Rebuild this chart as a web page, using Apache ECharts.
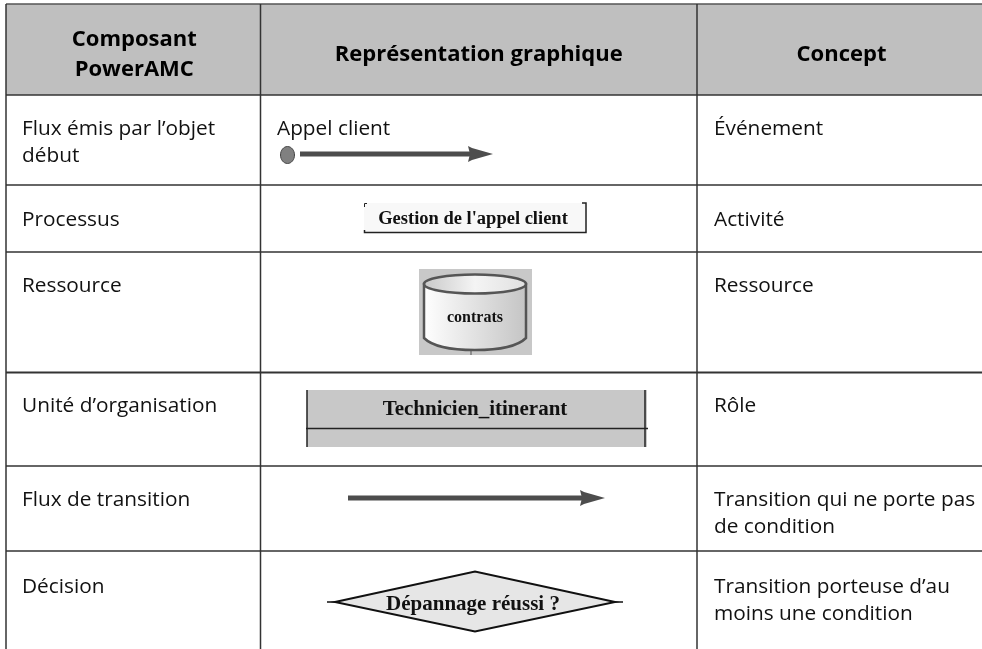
<!DOCTYPE html>
<html lang="fr">
<head>
  <meta charset="UTF-8" />
  <title>Composants PowerAMC</title>
  <script src="https://cdn.jsdelivr.net/npm/echarts@6/dist/echarts.min.js"></script>
  <style>
    body { margin: 0; background: #fff; overflow: hidden; }
    #main { width: 982px; height: 649px; }
  </style>
</head>
<body>
  <div id="main"></div>
  <script>
    const columnHeaders = ['Composant\nPowerAMC', 'Représentation graphique', 'Concept'];
    const components = [
      'Flux émis par l’objet\ndébut',
      'Processus',
      'Ressource',
      'Unité d’organisation',
      'Flux de transition',
      'Décision'
    ];
    const concepts = [
      'Événement',
      'Activité',
      'Ressource',
      'Rôle',
      'Transition qui ne porte pas\nde condition',
      'Transition porteuse d’au\nmoins une condition'
    ];
    const eventLabel = 'Appel client';
    const processLabel = 'Gestion de l\'appel client';
    const resourceLabel = 'contrats';
    const roleLabel = 'Technicien_itinerant';
    const decisionLabel = 'Dépannage réussi ?';

    // grille du tableau
    const colX = [6, 260.5, 697, 982];
    const rowY = [4, 95, 185, 252, 372.5, 466, 551, 649];
    const bodyFont = '"Open Sans", sans-serif';
    const serif = '"Liberation Serif", serif';
    const lineColor = '#333';
    const arrowColor = '#4d4d4d';

    // la cuve de la ressource : graphic n'a pas de type path
    echarts.graphic.registerShape('drum', echarts.graphic.extendShape({
      shape: { x1: 0, x2: 0, top: 0, side: 0, bottom: 0 },
      buildPath(ctx, s) {
        const mid = (s.x1 + s.x2) / 2;
        ctx.moveTo(s.x1, s.top);
        ctx.lineTo(s.x1, s.side);
        ctx.bezierCurveTo(s.x1 + 8, s.bottom - 4, mid - 25, s.bottom, mid, s.bottom);
        ctx.bezierCurveTo(mid + 25, s.bottom, s.x2 - 8, s.bottom - 4, s.x2, s.side);
        ctx.lineTo(s.x2, s.top);
        ctx.closePath();
      }
    }));

    const chart = echarts.init(document.getElementById('main'));
    const g = [];

    function line(x1, y1, x2, y2, color, width) {
      g.push({ type: 'line', shape: { x1, y1, x2, y2 }, style: { stroke: color, lineWidth: width } });
    }
    function rect(x, y, width, height, fill) {
      g.push({ type: 'rect', shape: { x, y, width, height }, style: { fill } });
    }
    function text(x, y, str, font, size, weight, align, lineHeight, color) {
      g.push({
        type: 'text', x, y,
        style: {
          text: str, fill: color || '#111', align, verticalAlign: 'middle',
          font: weight + ' ' + size + 'px ' + font, lineHeight
        }
      });
    }
    function arrow(x1, x2, y) {
      line(x1, y, x2 - 18, y, arrowColor, 5);
      g.push({
        type: 'polygon',
        shape: { points: [[x2 - 25, y - 8], [x2 - 21, y - 6], [x2, y], [x2 - 21, y + 6], [x2 - 25, y + 8], [x2 - 23, y]] },
        style: { fill: arrowColor }
      });
    }

    // en-tête
    rect(colX[0], rowY[0], colX[3] - colX[0], rowY[1] - rowY[0], '#bfbfbf');
    text((colX[0] + colX[1]) / 2 + 1, 55, columnHeaders[0], bodyFont, 22, 'bold', 'center', 30, '#000');
    text((colX[1] + colX[2]) / 2, 55, columnHeaders[1], bodyFont, 22, 'bold', 'center', 30, '#000');
    text((colX[2] + colX[3]) / 2 + 2, 55, columnHeaders[2], bodyFont, 22, 'bold', 'center', 30, '#000');

    // lignes
    rowY.slice(0, -1).forEach((y, i) => line(colX[0], y, colX[3], y, i === 0 ? '#555' : lineColor, i === 4 ? 2 : 1.5));
    colX.slice(0, -1).forEach(x => line(x, rowY[0], x, rowY[7], lineColor, 1.5));

    // colonnes de texte
    const textY = [129, 220, 286, 406, 500, 587];
    components.forEach((c, i) => {
      const y = c.indexOf('\n') >= 0 ? textY[i] + 13.5 : textY[i];
      text(colX[0] + 16, y, c, bodyFont, 20.8, 'normal', 'left', 27);
    });
    concepts.forEach((c, i) => {
      const y = c.indexOf('\n') >= 0 ? textY[i] + 13.5 : textY[i];
      text(colX[2] + 17, y, c, bodyFont, 20.8, 'normal', 'left', 27);
    });

    // flux émis par l'objet début
    text(277, 129, eventLabel, bodyFont, 20.8, 'normal', 'left', 27);
    g.push({ type: 'ellipse', shape: { cx: 287.5, cy: 155, rx: 7, ry: 8.5 }, style: { fill: '#808080', stroke: '#444', lineWidth: 1 } });
    arrow(300, 493, 154);

    // processus
    rect(364, 203, 223, 30, '#f8f8f8');
    g.push({ type: 'polyline', shape: { points: [[364.5, 207], [364.5, 203.5], [367, 203.5]] }, style: { stroke: '#222', lineWidth: 1, fill: 'none' } });
    g.push({ type: 'polyline', shape: { points: [[364.5, 230], [364.5, 232.5], [586, 232.5], [586, 203], [582, 203]] }, style: { stroke: '#222', lineWidth: 1.5, fill: 'none' } });
    text(473, 219, processLabel, serif, 18.5, 'bold', 'center', 18);

    // ressource
    rect(419, 269, 113, 86, '#c8c8c8');
    line(471, 350, 471, 355, '#555', 1);
    g.push({
      type: 'drum',
      shape: { x1: 424, x2: 526, top: 284, side: 338, bottom: 350 },
      style: {
        fill: new echarts.graphic.LinearGradient(0, 0, 1, 0, [
          { offset: 0, color: '#ffffff' },
          { offset: 1, color: '#c4c4c4' }
        ]),
        stroke: '#555', lineWidth: 2.5
      }
    });
    g.push({
      type: 'ellipse',
      shape: { cx: 475, cy: 284, rx: 51, ry: 9.5 },
      style: {
        fill: new echarts.graphic.LinearGradient(0, 0, 1, 0, [
          { offset: 0, color: '#c8c8c8' },
          { offset: 0.5, color: '#f4f4f4' },
          { offset: 1, color: '#e0e0e0' }
        ]),
        stroke: '#555', lineWidth: 2.5
      }
    });
    text(475, 318, resourceLabel, serif, 16, 'bold', 'center', 16);

    // unité d'organisation
    rect(307, 390, 340, 57, '#c8c8c8');
    line(307, 390, 307, 447, '#222', 1.5);
    line(645, 390, 645, 447, '#222', 1.5);
    line(306, 428.5, 648, 428.5, '#222', 1.5);
    text(475, 410, roleLabel, serif, 21, 'bold', 'center', 22);

    // flux de transition
    arrow(348, 605, 498);

    // décision
    line(327, 602, 342, 602, '#111', 1.5);
    line(608, 602, 623, 602, '#111', 1.5);
    g.push({
      type: 'polygon',
      shape: { points: [[335, 602], [475, 571.5], [615, 602], [475, 631.5]] },
      style: { fill: '#e6e6e6', stroke: '#111', lineWidth: 2 }
    });
    text(473, 605, decisionLabel, serif, 21, 'bold', 'center', 22);

    chart.setOption({ backgroundColor: '#fff', animation: false, graphic: { elements: g } });
    window.addEventListener('resize', () => {
      chart.resize();
    });
  </script>
</body>
</html>
